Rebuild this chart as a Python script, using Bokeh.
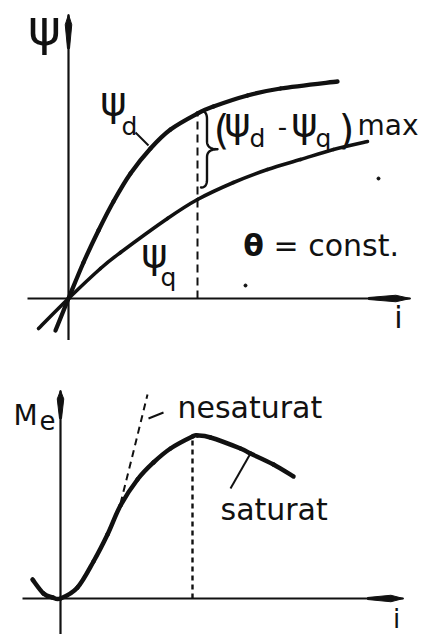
import numpy as np
from bokeh.plotting import figure
from bokeh.layouts import column
from bokeh.models import Range1d
from bokeh.core.properties import value
from bokeh.embed import file_html
from bokeh.resources import INLINE

# ---- upper diagram: flux linkages versus current, load angle held constant ----
i_d = [-1.3, 0.0, 1.5, 3.0, 4.5, 6.2, 8.2, 10.2, 12.9, 14.5, 17.9, 21.2, 26.9]
psi_d = [-3.2, 0.0, 3.6, 6.8, 9.7, 12.5, 15.0, 16.9, 18.5, 19.2, 20.3, 21.0, 21.7]

i_q = [-3.0, 0.0, 3.2, 5.2, 9.9, 12.9, 16.5, 19.9, 23.2, 26.5, 29.9]
psi_q = [-3.0, 0.0, 3.0, 4.6, 8.0, 9.9, 11.6, 12.9, 13.9, 14.9, 15.7]

i_gap = 12.9  # current at which psi_d - psi_q is largest

speck_x = [31.0, 17.7]
speck_y = [12.0, 1.3]

# ---- lower diagram: electromagnetic torque versus current ----
i_me = [-2.8, -1.7, -0.8, 0.0, 1.7, 3.3, 4.7, 6.0, 7.7, 9.3, 11.0, 13.2, 13.7,
        15.0, 18.0, 19.0, 21.3, 23.3]
me_sat = [1.9, 0.5, 0.1, 0.0, 1.1, 3.7, 6.4, 9.3, 11.9, 13.6, 15.0, 16.2, 16.3,
          16.1, 15.0, 14.5, 13.4, 12.2]

i_unsat = [6.0, 7.3, 8.7]
me_unsat = [9.5, 14.7, 20.4]

i_top_peak = 13.2  # current at maximum torque

FONT = value("DejaVu Sans")
INK = "#111111"


def make_panel(height, x0, x1, y0, y1):
    p = figure(width=428, height=height, x_range=Range1d(x0, x1), y_range=Range1d(y0, y1),
               x_axis_type=None, y_axis_type=None, toolbar_location=None,
               output_backend="svg", min_border=0, outline_line_color=None,
               background_fill_color="white", border_fill_color="white")
    p.grid.visible = False
    return p


def label(p, x, y, s, size, align="left", style="normal"):
    # y is the baseline; text is anchored on its middle, so lift it by ~0.37 em
    p.text(x=[x], y=[y + 0.037 * size], text=[s], text_font=FONT,
           text_font_size=value(f"{size}px"), text_align=align,
           text_baseline="middle", text_color=INK, text_font_style=style)


def smooth_curve(p, xs, ys, **kw):
    """Draw a curve through the points as Catmull-Rom segments (cubic Beziers)."""
    x = np.asarray(xs, float)
    y = np.asarray(ys, float)
    xp = np.concatenate([[x[0]], x, [x[-1]]])
    yp = np.concatenate([[y[0]], y, [y[-1]]])
    n = len(x) - 1
    x0, y0 = x[:-1], y[:-1]
    x1, y1 = x[1:], y[1:]
    cx0 = x0 + (xp[2:n + 2] - xp[0:n]) / 6.0
    cy0 = y0 + (yp[2:n + 2] - yp[0:n]) / 6.0
    cx1 = x1 - (xp[3:n + 3] - xp[1:n + 1]) / 6.0
    cy1 = y1 - (yp[3:n + 3] - yp[1:n + 1]) / 6.0
    p.bezier(x0=x0, y0=y0, x1=x1, y1=y1, cx0=cx0, cy0=cy0, cx1=cx1, cy1=cy1,
             line_cap="round", **kw)


def axis_with_arrow(p, start, end, horizontal, head_len=3.6, head_w=0.65):
    """Axis line ending in a slim filled spike."""
    if horizontal:
        y = 0.0
        p.line([start, end], [y, y], line_color=INK, line_width=2.2)
        xs = [end, end - 0.35 * head_len, end - head_len, end - head_len, end - 0.35 * head_len]
        ys = [y, y + head_w / 2, y + 0.1, y - 0.1, y - head_w / 2]
    else:
        x = 0.0
        p.line([x, x], [start, end], line_color=INK, line_width=2.2)
        ys = [end, end - 0.3 * head_len, end - head_len, end - head_len, end - 0.3 * head_len]
        xs = [x, x + head_w / 2, x + 0.1, x - 0.1, x - head_w / 2]
    p.patch(xs, ys, fill_color=INK, line_color=INK, line_width=1)


def brace_path(x0, yb, yt, xv, xt, curl=0.8, n=14):
    """Right-pointing curly brace between yb and yt."""
    t = np.linspace(0, 1, n)

    def quad(a, b, c):
        a, b, c = map(np.asarray, (a, b, c))
        return ((1 - t) ** 2)[:, None] * a + (2 * (1 - t) * t)[:, None] * b + (t ** 2)[:, None] * c

    ym = 0.5 * (yb + yt)
    parts = [
        quad((x0, yt), (xv, yt), (xv, yt - curl)),
        quad((xv, ym + curl), (xv, ym), (xt, ym)),
        quad((xt, ym), (xv, ym), (xv, ym - curl)),
        quad((xv, yb + curl), (xv, yb), (x0, yb)),
    ]
    pts = np.vstack(parts)
    return pts[:, 0], pts[:, 1]


# ================= upper panel =================
top = make_panel(340, -6.8, 36.0, -4.2, 29.8)

axis_with_arrow(top, -4.1, 34.2, horizontal=True, head_len=4.2)
axis_with_arrow(top, -4.2, 28.4, horizontal=False, head_len=3.4)

smooth_curve(top, i_d, psi_d, line_color=INK, line_width=4.3)
smooth_curve(top, i_q, psi_q, line_color=INK, line_width=3.6)

psi_d_at = psi_d[i_d.index(i_gap)]
psi_q_at = psi_q[i_q.index(i_gap)]
top.line([i_gap, i_gap], [0, psi_d_at], line_color=INK, line_width=2, line_dash="8 5")

bx, by = brace_path(i_gap + 0.35, psi_q_at + 1.2, psi_d_at + 0.25, i_gap + 0.95, i_gap + 2.0)
top.line(bx, by, line_color=INK, line_width=2.4, line_cap="round", line_join="round")

top.scatter(speck_x, speck_y, size=3, color=INK)

# labels
label(top, -2.4, 25.2, "ψ", 50, align="center")
label(top, 4.5, 18.3, "ψ", 40, align="center")
label(top, 5.3, 16.3, "d", 25)
top.line([6.7, 8.0], [16.6, 15.3], line_color=INK, line_width=2)
label(top, 8.6, 3.1, "ψ", 40, align="center")
label(top, 9.2, 1.2, "q", 25)

label(top, 15.3, 15.4, "(", 40, align="center")
label(top, 16.9, 16.2, "ψ", 40, align="center")
label(top, 18.1, 15.1, "d", 25)
label(top, 21.4, 16.3, "-", 26, align="center")
label(top, 23.6, 16.2, "ψ", 40, align="center")
label(top, 24.7, 15.1, "q", 25)
label(top, 27.8, 15.4, ")", 40, align="center")
label(top, 28.9, 16.3, "max", 28)

label(top, 18.5, 4.2, "θ", 30, align="center", style="bold")
label(top, 20.5, 4.2, "= const.", 30)
label(top, 33.0, -3.0, "i", 30, align="center")

# ================= lower panel =================
bot = make_panel(294, -6.0, 36.8, -3.6, 25.8)

axis_with_arrow(bot, -3.8, 34.3, horizontal=True, head_len=3.6)
axis_with_arrow(bot, -3.6, 20.8, horizontal=False, head_len=2.8)

bot.line(i_unsat, me_unsat, line_color=INK, line_width=2, line_dash="7 5")
smooth_curve(bot, i_me, me_sat, line_color=INK, line_width=4.5)

me_peak = me_sat[i_me.index(i_top_peak)]
bot.line([i_top_peak, i_top_peak], [0, me_peak - 0.2], line_color=INK, line_width=2.4,
         line_dash="5 4")

label(bot, -4.7, 17.3, "M", 28)
label(bot, -2.1, 16.9, "e", 26)

bot.line([8.8, 10.3], [18.0, 18.6], line_color=INK, line_width=2)
label(bot, 11.7, 18.0, "nesaturat", 30)

bot.line([17.0, 19.0], [11.0, 14.5], line_color=INK, line_width=2)
label(bot, 16.0, 7.8, "saturat", 30)

label(bot, 33.6, -3.0, "i", 26, align="center")

layout = column(top, bot, spacing=0)
open("out.html", "w").write(file_html(layout, INLINE))
